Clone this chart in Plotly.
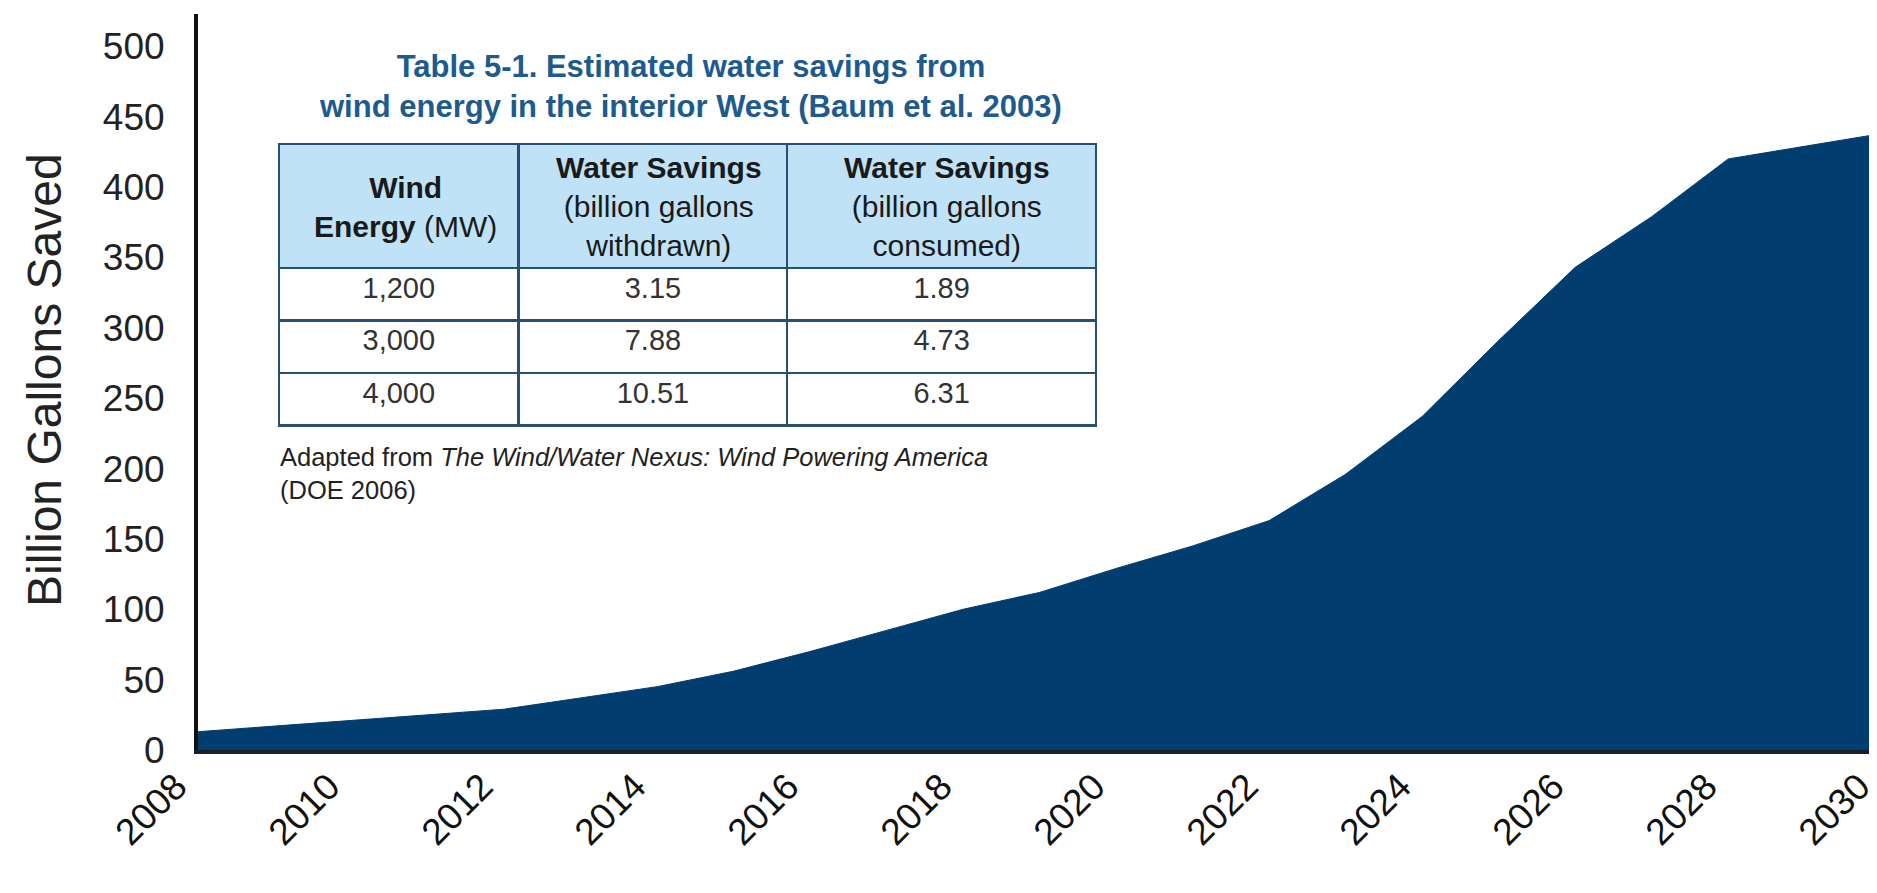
import plotly.graph_objects as go

# ---- chart data ----
years = list(range(2008, 2031))
gallons_saved = [13, 17, 21, 25, 29, 37, 45, 56, 70, 85, 100, 112, 129,
                 145, 163, 196, 237, 291, 343, 379, 420, 429, 438]

y_ticks = list(range(0, 501, 50))
x_ticks = list(range(2008, 2031, 2))

# ---- inset table data ----
table_title = ["Table 5-1. Estimated water savings from",
               "wind energy in the interior West (Baum et al. 2003)"]
table_header = ["<b>Wind</b><br><b>Energy</b> (MW)",
                "<b>Water Savings</b><br>(billion gallons<br>withdrawn)",
                "<b>Water Savings</b><br>(billion gallons<br>consumed)"]
wind_mw = ["1,200", "3,000", "4,000"]
withdrawn = ["3.15", "7.88", "10.51"]
consumed = ["1.89", "4.73", "6.31"]
footnote = ["Adapted from <i>The Wind/Water Nexus: Wind Powering America</i>",
            "(DOE 2006)"]

W, H = 1877, 893
ML, MR, MT, MB = 190, 3, 6, 151
PW, PH = W - ML - MR, H - MT - MB


def px_x(x):
    return (x - ML) / PW


def px_y(y):
    return (H - MB - y) / PH


FONT = "Liberation Sans, Arial, sans-serif"
NAVY = "#023d6f"
BORDER = "#264f73"

# table geometry (pixels)
TBL_L, TBL_R, TBL_T, TBL_B = 271, 1089, 136, 420
COL_W = [239, 268, 308]
HEAD_H, ROW_H = 124, 52.5

fig = go.Figure()

fig.add_trace(go.Scatter(
    x=years, y=gallons_saved, mode="lines", fill="tozeroy",
    line=dict(color=NAVY, width=1), fillcolor=NAVY,
    hoverinfo="x+y", showlegend=False))

fig.add_trace(go.Table(
    domain=dict(x=[px_x(TBL_L), px_x(TBL_R)], y=[px_y(TBL_B), px_y(TBL_T)]),
    columnwidth=COL_W,
    header=dict(values=["", "", ""], fill_color="#bfe2f7",
                line=dict(color=BORDER, width=2.5),
                align="center", height=HEAD_H,
                font=dict(family=FONT, size=28, color="#1a1a1a")),
    cells=dict(values=[wind_mw, withdrawn, consumed], fill_color="white",
               line=dict(color=BORDER, width=2.5),
               align="center", height=ROW_H,
               font=dict(family=FONT, size=29, color="#333333")),
))

# header labels, centred in each header cell
left = 278
for txt, w in zip(table_header, COL_W):
    fig.add_annotation(
        text=txt, xref="paper", yref="paper",
        x=px_x(left + w / 2), y=px_y(199),
        xanchor="center", yanchor="middle", showarrow=False, align="center",
        font=dict(family=FONT, size=30, color="#1a1a1a"))
    left += w

fig.add_annotation(
    text="<b>" + "<br>".join(table_title) + "</b>",
    xref="paper", yref="paper", x=px_x(682), y=px_y(78),
    xanchor="center", yanchor="middle", showarrow=False, align="center",
    font=dict(family=FONT, size=31, color="#1d5b8e"))

fig.add_annotation(
    text="<br>".join(footnote),
    xref="paper", yref="paper", x=px_x(270), y=px_y(465),
    xanchor="left", yanchor="middle", showarrow=False, align="left",
    font=dict(family=FONT, size=25.5, color="#222222"))

fig.add_annotation(
    text="Billion Gallons Saved",
    xref="paper", yref="paper", x=px_x(36), y=px_y(372),
    xanchor="center", yanchor="middle", showarrow=False, textangle=-90,
    font=dict(family=FONT, size=48, color="#222222"))

fig.update_layout(
    width=W, height=H,
    margin=dict(l=ML, r=MR, t=MT, b=MB, pad=0),
    paper_bgcolor="white", plot_bgcolor="white",
    showlegend=False,
    font=dict(family=FONT, color="#1a1a1a"),
)

fig.update_xaxes(
    range=[2008, 2030.01], tickvals=x_ticks, ticktext=[str(t) for t in x_ticks],
    tickangle=-45, showgrid=False, zeroline=False,
    showline=True, linecolor="#17212b", linewidth=4,
    ticks="", ticklabelstandoff=-4, ticklabelshift=-22,
    ticklabeloverflow="allow",
    tickfont=dict(family=FONT, size=37, color="#111111"))

fig.update_yaxes(
    range=[0, 523], tickvals=y_ticks, showgrid=False, zeroline=False,
    showline=True, linecolor="#111111", linewidth=4,
    ticks="", ticklabelstandoff=22,
    tickfont=dict(family=FONT, size=37, color="#222222"))

fig.write_html("out.html")
